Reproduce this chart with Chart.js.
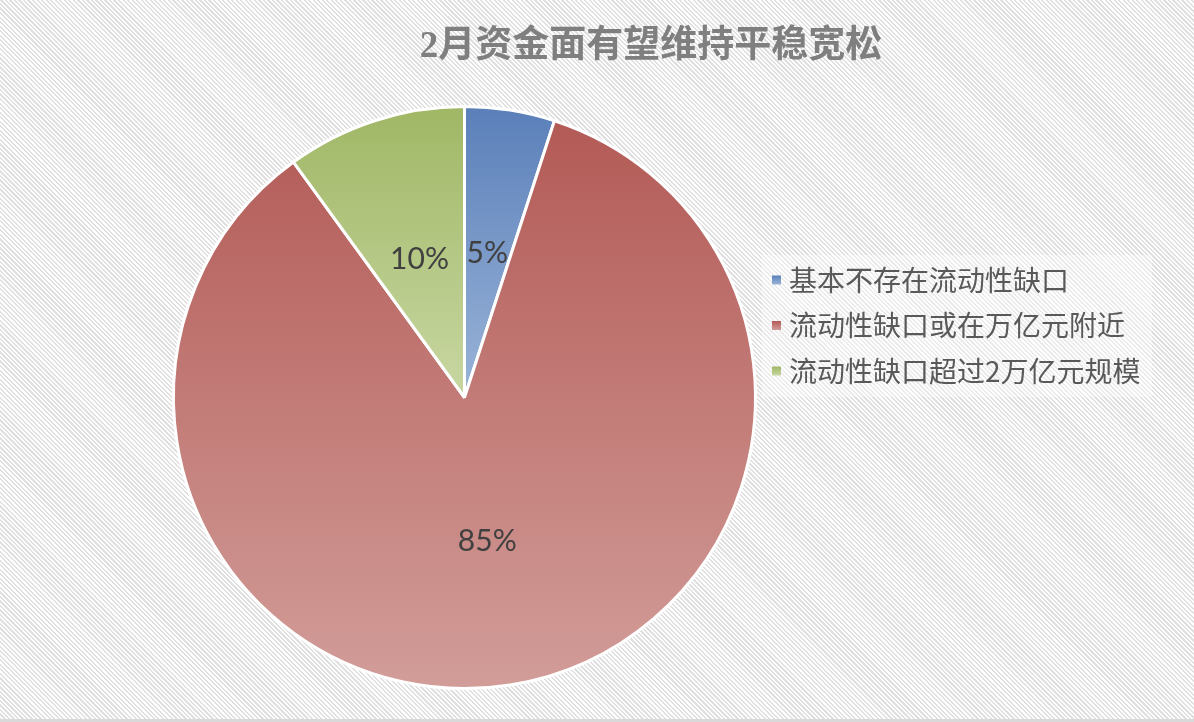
<!DOCTYPE html>
<html>
<head>
<meta charset="utf-8">
<script src="https://cdn.jsdelivr.net/npm/chart.js@4/dist/chart.umd.min.js"></script>
<style>
    html, body { margin: 0; padding: 0; }
    body {
        width: 1194px;
        height: 722px;
        overflow: hidden;
        background: repeating-linear-gradient(45deg, #ffffff 0px, #ffffff 1.6px, #e0e0e0 1.6px, #e0e0e0 3.2px);
    }
    #wrap { position: relative; width: 1194px; height: 719px; border-bottom: 3px solid #d9d9d9; }
</style>
</head>
<body>
<div id="wrap">
    <canvas id="pieChart" width="1194" height="719"></canvas>
</div>
<script>
const chartTitle = '2月资金面有望维持平稳宽松';
const categories = ['基本不存在流动性缺口', '流动性缺口或在万亿元附近', '流动性缺口超过2万亿元规模'];
const shares = [5, 85, 10];
const topColors = ['#5a7fb9', '#b35a56', '#a0b765'];
const bottomColors = ['#9ab4d8', '#d29d99', '#c8d7a2'];

const total = shares.reduce((a, b) => a + b, 0);

// each slice gets its own top-to-bottom gradient, like the office chart
function sliceFill(ctx) {
    const i = ctx.dataIndex;
    const chart = ctx.chart;
    const area = chart.chartArea;
    if (!area) return topColors[i];
    const cx = (area.left + area.right) / 2;
    const cy = (area.top + area.bottom) / 2;
    const r = Math.min(area.width, area.height) / 2;
    let a0 = -Math.PI / 2;
    for (let k = 0; k < i; k++) a0 += shares[k] / total * 2 * Math.PI;
    const a1 = a0 + shares[i] / total * 2 * Math.PI;
    const ys = [cy, cy + r * Math.sin(a0), cy + r * Math.sin(a1)];
    [-Math.PI / 2, Math.PI / 2, 3 * Math.PI / 2].forEach(t => {
        if (t >= a0 && t <= a1) ys.push(cy + r * Math.sin(t));
    });
    const g = chart.ctx.createLinearGradient(0, Math.min(...ys), 0, Math.max(...ys));
    g.addColorStop(0, topColors[i]);
    g.addColorStop(1, bottomColors[i]);
    return g;
}

const titlePlugin = {
    id: 'titleText',
    afterDraw(chart) {
        const c = chart.ctx;
        c.save();
        c.font = 'bold 37px "Liberation Serif", "Noto Sans CJK SC"';
        c.fillStyle = '#7f7f7f';
        c.textAlign = 'center';
        c.textBaseline = 'middle';
        c.fillText(chartTitle, 651, 47);
        c.restore();
    }
};

const legendPlugin = {
    id: 'sideLegend',
    afterDraw(chart) {
        const c = chart.ctx;
        c.save();
        c.fillStyle = 'rgba(255,255,255,0.35)';
        c.fillRect(762, 255, 390, 142);
        c.font = '28px "Noto Sans CJK SC"';
        c.textBaseline = 'middle';
        categories.forEach((name, i) => {
            const y = 280 + i * 45.5;
            const g = c.createLinearGradient(0, y - 4.5, 0, y + 4.5);
            g.addColorStop(0, topColors[i]);
            g.addColorStop(1, bottomColors[i]);
            c.fillStyle = g;
            c.fillRect(772, y - 4.5, 9, 9);
            c.fillStyle = '#595959';
            c.fillText(name, 789, y);
        });
        c.restore();
    }
};

const labelPlugin = {
    id: 'sliceLabels',
    afterDatasetsDraw(chart) {
        const c = chart.ctx;
        const meta = chart.getDatasetMeta(0);
        c.save();
        c.font = '30px Lato, "Open Sans", sans-serif';
        c.fillStyle = '#404040';
        c.textAlign = 'center';
        c.textBaseline = 'middle';
        meta.data.forEach((arc, i) => {
            const p = arc.tooltipPosition();
            c.fillText(Math.round(shares[i] / total * 100) + '%', p.x, p.y);
        });
        c.restore();
    }
};

const ctx = document.getElementById('pieChart').getContext('2d');
new Chart(ctx, {
    type: 'pie',
    data: {
        labels: categories,
        datasets: [{
            data: shares,
            backgroundColor: sliceFill,
            borderColor: '#ffffff',
            borderWidth: 3
        }]
    },
    options: {
        responsive: false,
        animation: false,
        layout: {
            padding: { left: 172, right: 437, top: 105, bottom: 29 }
        },
        plugins: {
            legend: { display: false },
            title: { display: false },
            tooltip: { enabled: false }
        }
    },
    plugins: [labelPlugin, titlePlugin, legendPlugin]
});
</script>
</body>
</html>
